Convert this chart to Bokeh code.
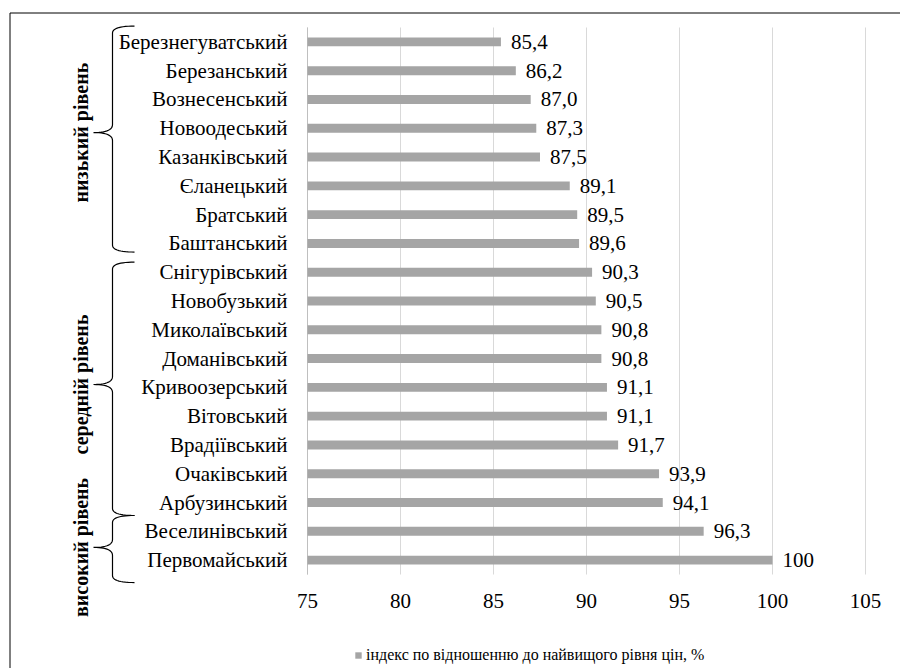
import numpy as np
from bokeh.plotting import figure
from bokeh.models import Range1d, ColumnDataSource, Legend, LegendItem
from bokeh.core.properties import value
from bokeh.embed import file_html
from bokeh.resources import INLINE

# ---------------- data ----------------
districts = ["Березнегуватський", "Березанський", "Вознесенський", "Новоодеський",
             "Казанківський", "Єланецький", "Братський", "Баштанський",
             "Снігурівський", "Новобузький", "Миколаївський", "Доманівський",
             "Кривоозерський", "Вітовський", "Врадіївський", "Очаківський",
             "Арбузинський", "Веселинівський", "Первомайський"]
index_values = [85.4, 86.2, 87.0, 87.3, 87.5, 89.1, 89.5, 89.6,
                90.3, 90.5, 90.8, 90.8, 91.1, 91.1, 91.7, 93.9,
                94.1, 96.3, 100]
value_labels = [str(v).replace(".", ",") for v in index_values]
x_ticks = [75, 80, 85, 90, 95, 100, 105]
tick_labels = [str(t) for t in x_ticks]
series_name = "індекс по відношенню до найвищого рівня цін, %"
group_names = ["низький рівень", "середній рівень", "високий рівень"]

# ---------------- layout (pixels) ----------------
SERIF = "Liberation Serif"
W, H = 900, 668
FL, FR, FT, FB = 307, 865, 27, 574          # plot area in canvas pixels
X0, X1 = x_ticks[0], x_ticks[-1]
n = len(districts)
ppx = (FR - FL) / (X1 - X0)
ppy = (FB - FT) / n

def px_to_x(px):
    return X0 + (px - FL) / ppx

def py_to_y(py):
    return (FB - py) / ppy

p = figure(width=W, height=H, output_backend="svg", toolbar_location=None,
           x_range=Range1d(px_to_x(0), px_to_x(W)),
           y_range=Range1d(py_to_y(H), py_to_y(0)),
           x_axis_location=None, y_axis_location=None,
           min_border=0, min_border_left=0, min_border_right=0,
           min_border_top=0, min_border_bottom=0)
p.outline_line_color = None
p.grid.visible = False
p.background_fill_color = "white"

ypos = [n - k - 0.5 for k in range(n)]
src = ColumnDataSource(dict(d=districts, y=ypos, v=index_values, lab=value_labels))

# gridlines and category axis line
p.segment(x0=x_ticks, y0=[0] * len(x_ticks), x1=x_ticks, y1=[n] * len(x_ticks),
          line_color="#D9D9D9", line_width=1)
p.segment(x0=[X0], y0=[0], x1=[X0], y1=[n], line_color="#BFBFBF", line_width=1)

bars = p.hbar(y="y", left=X0, right="v", height=0.31, source=src,
              fill_color="#A5A5A5", line_color=None)

# value labels
p.text(x="v", y="y", text="lab", source=src, x_offset=10,
       text_baseline="middle", text_align="left",
       text_font=value(SERIF), text_font_size="21px", text_color="black")
# category labels
p.text(x=X0, y="y", text="d", source=src, x_offset=-20,
       text_baseline="middle", text_align="right",
       text_font=value(SERIF), text_font_size="21px", text_color="black")
# tick labels
p.text(x=x_ticks, y=[0] * len(x_ticks), text=tick_labels, y_offset=26,
       text_baseline="middle", text_align="center",
       text_font=value(SERIF), text_font_size="21px", text_color="black")

# ---------------- braces & group labels ----------------
# (top, bottom, tip) of each brace, in row units
brace_spans = [(19.05, 11.2, 15.35), (10.85, 2.05, 6.6), (2.05, -0.28, 0.94)]
xv, xr, xt = px_to_x(112), px_to_x(134), px_to_x(93)
r_end, r_mid = 7.0 / ppy, 8.0 / ppy

def quad(p0, c, p1, m=14):
    t = np.linspace(0, 1, m)
    x = (1 - t) ** 2 * p0[0] + 2 * (1 - t) * t * c[0] + t ** 2 * p1[0]
    y = (1 - t) ** 2 * p0[1] + 2 * (1 - t) * t * c[1] + t ** 2 * p1[1]
    return list(x), list(y)

bxs, bys = [], []
for top, bot, mid in brace_spans:
    xs, ys = [], []
    for seg in [quad((xr, top), (xv, top), (xv, top - r_end)),
                quad((xv, mid + r_mid), (xv, mid), (xt, mid)),
                quad((xt, mid), (xv, mid), (xv, mid - r_mid)),
                quad((xv, bot + r_end), (xv, bot), (xr, bot))]:
        xs += seg[0]
        ys += seg[1]
    bxs.append(xs)
    bys.append(ys)
p.multi_line(xs=bxs, ys=bys, line_color="black", line_width=1.2)

p.text(x=[px_to_x(80)] * 3, y=[s[2] for s in brace_spans], text=group_names,
       angle=np.pi / 2, text_align="center", text_baseline="middle",
       text_font=value(SERIF), text_font_style="bold", text_font_size="20px",
       text_color="black")

# outer border (left and top edges of the chart box)
p.line(x=[px_to_x(9.5), px_to_x(9.5), px_to_x(W + 10)],
       y=[py_to_y(H + 10), py_to_y(12.5), py_to_y(12.5)],
       line_color="black", line_width=1)

# ---------------- legend ----------------
legend = Legend(items=[LegendItem(label=series_name, renderers=[bars])],
                location=(354, 4), orientation="horizontal",
                padding=0, margin=0, spacing=0,
                glyph_width=8, glyph_height=8, label_height=16, label_standoff=4,
                label_text_font=SERIF, label_text_font_size="16px",
                label_text_color="black",
                background_fill_alpha=0, border_line_color=None)
p.add_layout(legend, "center")

open("out.html", "w").write(file_html(p, INLINE))
